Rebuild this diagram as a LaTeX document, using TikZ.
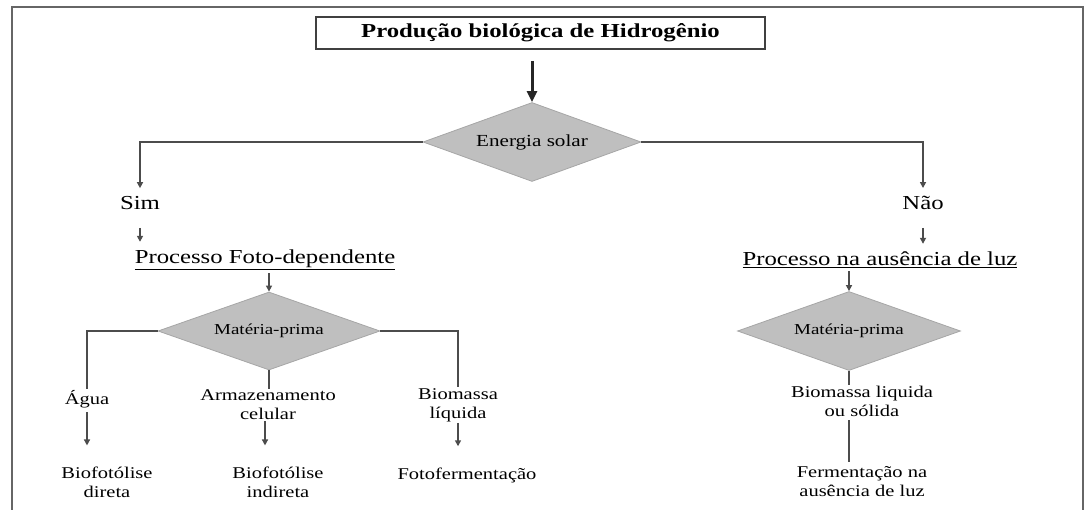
\documentclass[tikz,border=0pt]{standalone}
\usepackage{fontspec}
\setmainfont{Liberation Serif}[FakeStretch=1.25]
\usetikzlibrary{shapes.geometric,arrows.meta}

\begin{document}
\begin{tikzpicture}[x=1pt,y=-1pt,
		line/.style={draw=black!70,line width=1.6pt},
		arr/.style={line,-{Triangle[length=6pt,width=6pt]}},
		decision/.style={diamond,draw=black!35,fill=black!25,line width=0.8pt,inner sep=0pt,aspect=2.8,text=black},
		big/.style={inner sep=1pt,text=black,font=\fontsize{19.8}{22}\selectfont},
		small/.style={inner sep=1pt,align=center,text=black,font=\fontsize{16.4}{19}\selectfont}]
		\useasboundingbox (0,0) rectangle (1089,510);
		\def\ya{142} % level of the light question
		\def\yb{331} % level of the raw material questions
		% the frame
		\draw[black!60,line width=2.4pt] (12,515) |- (1083,7) -- (1083,515);
		% the title and the light question
		\node[draw=black!75,line width=1.6pt,minimum width=449,minimum height=32,big,font=\fontsize{19.8}{22}\selectfont\bfseries] (title) at (540.5,33) {Produção biológica de Hidrogênio};
		\node[decision,minimum width=218,minimum height=79,font=\fontsize{16.9}{19}\selectfont] (solar) at (532,\ya) {Energia solar};
		\draw[black!85,line width=3pt,-{Triangle[length=11pt,width=10pt]},shorten <=11pt] (title.south -| solar.north) -- (solar.north);
		% with light
		\node[big] (sim) at (140,203) {Sim};
		\node[big] (foto) at (265,260) {\underline{Processo Foto-dependente}};
		\draw[arr,shorten >=7pt] (solar.west) -| (sim.north);
		\draw[arr,shorten <=17pt,shorten >=7pt] (sim.south) -- (sim.south |- foto.north);
		\node[decision,minimum width=222,minimum height=78,font=\fontsize{15.2}{17}\selectfont] (mata) at (269,\yb) {Matéria-prima};
		\draw[arr,shorten <=2pt] (foto.south -| mata.north) -- (mata.north);
		\node[small] (agua) at (87,399) {Água};
		\node[small] (arm) at (268,405) {Armazenamento\\celular};
		\node[small] (liqa) at (458,405) {Biomassa\\líquida};
		\node[small] (dir) at (107,482) {Biofotólise\\direta};
		\node[small] (ind) at (278,482) {Biofotólise\\indireta};
		\node[small] (ffer) at (467,475) {Fotofermentação};
		\draw[line] (mata.west) -| (agua.north);
		\draw[line] (mata.south) -- (mata.south |- arm.north);
		\draw[line] (mata.east) -| (liqa.north);
		\draw[arr,shorten <=3pt,shorten >=20pt] (agua.south) -- (agua.south |- dir.north);
		\draw[arr,shorten >=20pt] ([xshift=-3pt]arm.south) -- ([xshift=-3pt]arm.south |- ind.north);
		\draw[arr,shorten >=20pt] (liqa.south) -- (liqa.south |- ffer.north);
		% without light
		\node[big] (nao) at (923,203) {Não};
		\node[big] (luz) at (880,260) {\underline{Processo na ausência de luz}};
		\draw[arr,shorten >=7pt] (solar.east) -| (nao.north);
		\draw[arr,shorten <=17pt,shorten >=7pt] (nao.south) -- (nao.south |- luz.north);
		\node[decision,minimum width=223,minimum height=79,font=\fontsize{15.2}{17}\selectfont] (matb) at (849,\yb) {Matéria-prima};
		\draw[arr,shorten <=2pt] (luz.south -| matb.north) -- (matb.north);
		\node[small] (liqb) at (862,401) {Biomassa liquida\\ou sólida};
		\node[small] (ferm) at (862,482) {Fermentação na\\ausência de luz};
		\draw[line] (matb.south) -- (matb.south |- liqb.north);
		\draw[line,shorten <=3pt,shorten >=4pt] (liqb.south -| matb.south) -- (matb.south |- ferm.north);
\end{tikzpicture}
\end{document}
